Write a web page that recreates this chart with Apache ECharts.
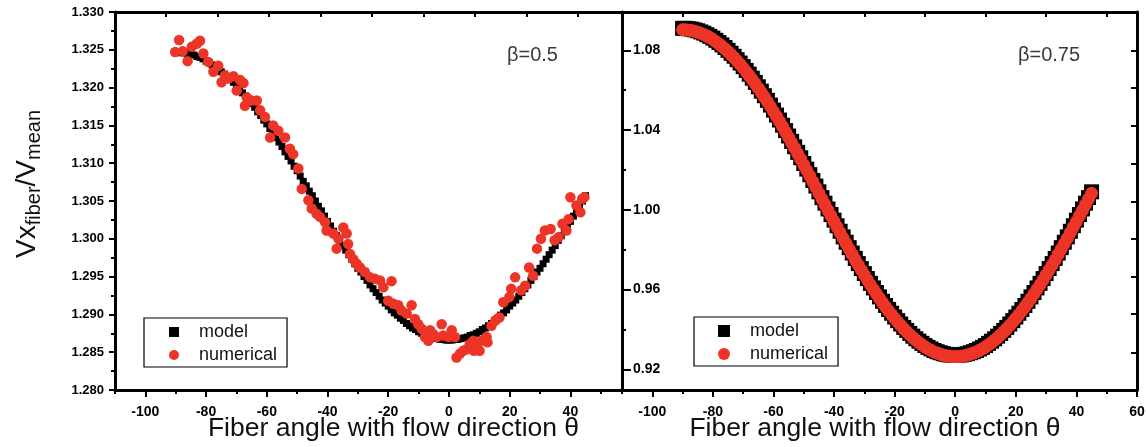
<!DOCTYPE html>
<html><head><meta charset="utf-8">
<script src="https://cdn.jsdelivr.net/npm/echarts@6/dist/echarts.min.js"></script>
<style>html,body{margin:0;padding:0;background:#fff}#c{width:1146px;height:447px}</style>
</head><body><div id="c"></div>
<script>
// ---------- data ----------
const angles = [-90,-89,-88,-87,-86,-85,-84,-83,-82,-81,-80,-79,-78,-77,-76,-75,-74,-73,-72,-71,-70,-69,-68,-67,-66,-65,-64,-63,-62,-61,-60,-59,-58,-57,-56,-55,-54,-53,-52,-51,-50,-49,-48,-47,-46,-45,-44,-43,-42,-41,-40,-39,-38,-37,-36,-35,-34,-33,-32,-31,-30,-29,-28,-27,-26,-25,-24,-23,-22,-21,-20,-19,-18,-17,-16,-15,-14,-13,-12,-11,-10,-9,-8,-7,-6,-5,-4,-3,-2,-1,0,1,2,3,4,5,6,7,8,9,10,11,12,13,14,15,16,17,18,19,20,21,22,23,24,25,26,27,28,29,30,31,32,33,34,35,36,37,38,39,40,41,42,43,44,45];

// beta = 0.5, model
const leftModel = [1.3247,1.3247,1.3246,1.3246,1.3245,1.3244,1.3243,1.3241,1.3240,1.3238,1.3235,1.3233,1.3230,1.3228,1.3225,1.3221,1.3218,1.3214,1.3211,1.3207,1.3202,1.3198,1.3193,1.3189,1.3184,1.3179,1.3174,1.3168,1.3163,1.3157,1.3152,1.3146,1.3140,1.3134,1.3128,1.3122,1.3115,1.3109,1.3103,1.3096,1.3090,1.3083,1.3076,1.3070,1.3063,1.3057,1.3050,1.3043,1.3037,1.3030,1.3023,1.3017,1.3010,1.3004,1.2998,1.2991,1.2985,1.2979,1.2973,1.2967,1.2961,1.2956,1.2950,1.2945,1.2939,1.2934,1.2929,1.2924,1.2919,1.2915,1.2911,1.2906,1.2902,1.2899,1.2895,1.2892,1.2888,1.2885,1.2882,1.2880,1.2877,1.2875,1.2873,1.2872,1.2870,1.2869,1.2868,1.2867,1.2867,1.2866,1.2866,1.2866,1.2867,1.2867,1.2868,1.2869,1.2870,1.2872,1.2873,1.2875,1.2877,1.2880,1.2882,1.2885,1.2888,1.2892,1.2895,1.2899,1.2902,1.2906,1.2911,1.2915,1.2919,1.2924,1.2929,1.2934,1.2939,1.2945,1.2950,1.2956,1.2961,1.2967,1.2973,1.2979,1.2985,1.2991,1.2998,1.3004,1.3010,1.3017,1.3023,1.3030,1.3037,1.3043,1.3050,1.3057];

// beta = 0.5, numerical (scattered)
const leftNumAngle = [-90.2,-88.9,-87.7,-86.1,-84.7,-83.1,-82.0,-80.9,-79.3,-77.6,-76.0,-74.9,-73.8,-72.7,-71.0,-69.9,-68.8,-67.7,-67.2,-66.6,-65.0,-63.3,-62.2,-60.6,-58.9,-57.9,-56.2,-54.0,-52.4,-51.3,-49.6,-48.5,-46.3,-45.2,-43.6,-42.5,-40.8,-40.3,-38.1,-37.0,-36.4,-34.8,-33.7,-33.2,-32.6,-31.5,-30.4,-29.3,-27.7,-26.0,-24.4,-22.7,-21.6,-20.0,-18.9,-18.3,-16.7,-15.6,-13.9,-12.3,-11.2,-10.1,-9.0,-7.9,-6.8,-6.2,-5.2,-4.0,-2.4,-1.9,-0.2,0.9,2.0,2.5,3.6,4.7,5.8,6.9,8.0,8.2,9.1,10.1,10.8,12.4,12.7,14.0,15.3,16.6,17.9,19.9,20.5,21.8,23.8,25.1,26.4,27.7,29.0,30.3,31.6,33.5,34.8,36.1,37.4,38.7,39.4,40.0,42.0,43.3,43.9,44.6];
const leftNumValue = [1.3247,1.3263,1.3248,1.3235,1.3254,1.3258,1.3262,1.3245,1.3234,1.3221,1.3229,1.3207,1.3216,1.3212,1.3215,1.3196,1.3210,1.3206,1.3176,1.3187,1.3183,1.3183,1.3170,1.3161,1.3134,1.3150,1.3143,1.3134,1.3119,1.3112,1.3093,1.3066,1.3051,1.3040,1.3033,1.3029,1.3022,1.3011,1.3007,1.2987,1.3000,1.3015,1.3007,1.2993,1.2980,1.2973,1.2967,1.2962,1.2956,1.2949,1.2947,1.2945,1.2936,1.2918,1.2944,1.2914,1.2912,1.2905,1.2901,1.2912,1.2894,1.2887,1.2881,1.2870,1.2865,1.2879,1.2874,1.2870,1.2887,1.2872,1.2870,1.2879,1.2870,1.2843,1.2848,1.2852,1.2854,1.2861,1.2865,1.2852,1.2856,1.2852,1.2865,1.2870,1.2863,1.2885,1.2892,1.2896,1.2916,1.2923,1.2934,1.2949,1.2932,1.2938,1.2962,1.2951,1.2987,1.3000,1.3011,1.3013,1.2998,1.3002,1.3020,1.3011,1.3026,1.3055,1.3044,1.3035,1.3053,1.3055];

// beta = 0.75
const rightModel = [1.0910,1.0910,1.0908,1.0906,1.0902,1.0898,1.0892,1.0886,1.0878,1.0870,1.0861,1.0850,1.0839,1.0827,1.0814,1.0800,1.0785,1.0770,1.0753,1.0736,1.0718,1.0699,1.0680,1.0660,1.0639,1.0617,1.0595,1.0572,1.0549,1.0525,1.0500,1.0475,1.0450,1.0424,1.0397,1.0370,1.0343,1.0316,1.0288,1.0261,1.0232,1.0204,1.0176,1.0147,1.0119,1.0090,1.0061,1.0033,1.0004,0.9976,0.9948,0.9920,0.9892,0.9864,0.9837,0.9810,0.9783,0.9756,0.9730,0.9705,0.9680,0.9655,0.9631,0.9608,0.9585,0.9563,0.9541,0.9520,0.9500,0.9481,0.9462,0.9444,0.9427,0.9410,0.9395,0.9380,0.9366,0.9353,0.9341,0.9330,0.9319,0.9310,0.9302,0.9294,0.9288,0.9283,0.9278,0.9275,0.9272,0.9271,0.9270,0.9271,0.9272,0.9275,0.9278,0.9283,0.9288,0.9294,0.9302,0.9310,0.9319,0.9330,0.9341,0.9353,0.9366,0.9380,0.9395,0.9410,0.9427,0.9444,0.9462,0.9481,0.9500,0.9520,0.9541,0.9563,0.9585,0.9608,0.9631,0.9655,0.9680,0.9705,0.9730,0.9756,0.9783,0.9810,0.9837,0.9864,0.9892,0.9920,0.9948,0.9976,1.0004,1.0033,1.0061,1.0090];
const rightNumerical = [1.0903,1.0903,1.0901,1.0899,1.0895,1.0891,1.0885,1.0879,1.0871,1.0863,1.0854,1.0843,1.0832,1.0820,1.0807,1.0793,1.0778,1.0763,1.0746,1.0729,1.0711,1.0692,1.0673,1.0653,1.0632,1.0610,1.0588,1.0565,1.0542,1.0518,1.0493,1.0468,1.0443,1.0417,1.0390,1.0363,1.0336,1.0309,1.0281,1.0254,1.0225,1.0197,1.0169,1.0140,1.0112,1.0083,1.0054,1.0026,0.9997,0.9969,0.9941,0.9913,0.9885,0.9857,0.9830,0.9803,0.9776,0.9749,0.9723,0.9698,0.9673,0.9648,0.9624,0.9601,0.9578,0.9556,0.9534,0.9513,0.9493,0.9474,0.9455,0.9437,0.9420,0.9403,0.9388,0.9373,0.9359,0.9346,0.9334,0.9323,0.9312,0.9303,0.9295,0.9287,0.9281,0.9276,0.9271,0.9268,0.9265,0.9264,0.9263,0.9264,0.9265,0.9268,0.9271,0.9276,0.9281,0.9287,0.9295,0.9303,0.9312,0.9323,0.9334,0.9346,0.9359,0.9373,0.9388,0.9403,0.9420,0.9437,0.9455,0.9474,0.9493,0.9513,0.9534,0.9556,0.9578,0.9601,0.9624,0.9648,0.9673,0.9698,0.9723,0.9749,0.9776,0.9803,0.9830,0.9857,0.9885,0.9913,0.9941,0.9969,0.9997,1.0026,1.0054,1.0083];

// ticks / labels
const leftXLabels = [-100,-80,-60,-40,-20,0,20,40];
const leftXMinor = [-110,-90,-70,-50,-30,-10,10,30,50];
const leftXTop = [-93.2,-76.2,-59.3,-42.3,-25.3,-8.4,8.6,25.5,42.5];
const leftYLabels = [1.280,1.285,1.290,1.295,1.300,1.305,1.310,1.315,1.320,1.325,1.330];
const leftYMinor = [1.2825,1.2875,1.2925,1.2975,1.3025,1.3075,1.3125,1.3175,1.3225,1.3275];
const rightXLabels = [-100,-80,-60,-40,-20,0,20,40,60];
const rightXMinor = [-110,-90,-70,-50,-30,-10,10,30,50];
const rightXTop = [-90,-70,-50,-30,-10,10,30,50];
const rightYLabels = [0.92,0.96,1.00,1.04,1.08];
const rightYMinor = [0.94,0.98,1.02,1.06];
const rightYRight = [1.0800,1.0613,1.0419,1.0232,1.0042,0.9854,0.9664,0.9477,0.9285];
const seriesNames = ['model','numerical'];
const panelLabels = ['β=0.5','β=0.75'];
const xTitle = 'Fiber angle with flow direction θ';

// ---------- chart ----------
const FONT = '"Liberation Sans", Arial, sans-serif';
const RED = '#EC3427';
const chart = echarts.init(document.getElementById('c'), null, {renderer:'canvas'});
const zip = (xs, ys) => xs.map((x, i) => [x, ys[i]]);

const L = {left:115, top:12, width:507, height:378, containLabel:false, outerBoundsMode:'none'};
const R = {left:622, top:12, width:515, height:378, containLabel:false, outerBoundsMode:'none'};
const XL = {min:-110, max:57};
const XR = {min:-110, max:60};
const YL = {min:1.28, max:1.33};
const YR = {min:0.9096, max:1.0992};

const line3 = {show:true, onZero:false, lineStyle:{color:'#000', width:3}};
const noLine = {show:false, onZero:false};
const tick = (vals, len, inside) => ({show:true, inside:!!inside, length:len, customValues:vals, lineStyle:{color:'#000', width:2}});
const noLabel = {show:false};
const off = {show:false};

const xAxes = [
  // left panel
  {gridIndex:0, type:'value', position:'bottom', min:XL.min, max:XL.max, axisLine:line3,
   axisTick:tick(leftXLabels,7), splitLine:off,
   axisLabel:{show:true, customValues:leftXLabels, margin:15, fontFamily:FONT, fontWeight:'bold', fontSize:14, color:'#000'},
   name:xTitle, nameLocation:'middle', nameGap:25, nameMoveOverlap:false,
   nameTextStyle:{fontFamily:FONT, fontSize:26.5, color:'#111', padding:[0,0,0,50]}},
  {gridIndex:0, type:'value', position:'bottom', min:XL.min, max:XL.max, axisLine:noLine,
   axisTick:tick(leftXMinor,4), axisLabel:noLabel, splitLine:off},
  {gridIndex:0, type:'value', position:'top', min:XL.min, max:XL.max, axisLine:line3,
   axisTick:tick(leftXTop,5,true), axisLabel:noLabel, splitLine:off},
  // right panel
  {gridIndex:1, type:'value', position:'bottom', min:XR.min, max:XR.max, axisLine:line3,
   axisTick:tick(rightXLabels,7), splitLine:off,
   axisLabel:{show:true, customValues:rightXLabels, margin:15, fontFamily:FONT, fontWeight:'bold', fontSize:14, color:'#000'},
   name:xTitle, nameLocation:'middle', nameGap:25, nameMoveOverlap:false,
   nameTextStyle:{fontFamily:FONT, fontSize:26.5, color:'#111', padding:[0,9,0,0]}},
  {gridIndex:1, type:'value', position:'bottom', min:XR.min, max:XR.max, axisLine:noLine,
   axisTick:tick(rightXMinor,4), axisLabel:noLabel, splitLine:off},
  {gridIndex:1, type:'value', position:'top', min:XR.min, max:XR.max, axisLine:line3,
   axisTick:tick(rightXTop,5,true), axisLabel:noLabel, splitLine:off}
];

const yAxes = [
  {gridIndex:0, type:'value', position:'left', min:YL.min, max:YL.max, axisLine:line3,
   axisTick:tick(leftYLabels,6), splitLine:off,
   axisLabel:{show:true, customValues:leftYLabels, margin:11, fontFamily:FONT, fontWeight:'bold', fontSize:13, color:'#000',
     formatter:v => v.toFixed(3)},
   name:'{a|Vx}{b|fiber}{a|/V}{b|mean}', nameLocation:'middle', nameRotate:90, nameGap:71, nameMoveOverlap:false,
   nameTextStyle:{padding:[0,0,0,34], rich:{
     a:{fontFamily:FONT, fontSize:28, lineHeight:34, color:'#111'},
     b:{fontFamily:FONT, fontSize:20, lineHeight:22, verticalAlign:'bottom', color:'#111'}}}},
  {gridIndex:0, type:'value', position:'left', min:YL.min, max:YL.max, axisLine:noLine,
   axisTick:tick(leftYMinor,4), axisLabel:noLabel, splitLine:off},
  {gridIndex:1, type:'value', position:'left', min:YR.min, max:YR.max, axisLine:line3,
   axisTick:tick(rightYLabels,9,true), splitLine:off,
   axisLabel:{show:true, inside:true, customValues:rightYLabels, margin:11, fontFamily:FONT, fontWeight:'bold', fontSize:14, color:'#000',
     formatter:v => v.toFixed(2)}},
  {gridIndex:1, type:'value', position:'left', min:YR.min, max:YR.max, axisLine:noLine,
   axisTick:tick(rightYMinor,4,true), axisLabel:noLabel, splitLine:off},
  {gridIndex:1, type:'value', position:'right', min:YR.min, max:YR.max, axisLine:line3,
   axisTick:tick(rightYRight,6,true), axisLabel:noLabel, splitLine:off}
];

const legendBase = {
  orient:'vertical', selectedMode:false, borderColor:'#000', borderWidth:1.2, borderRadius:0,
  itemGap:5, backgroundColor:'#fff',
  textStyle:{fontFamily:FONT, fontSize:18, color:'#111', padding:[0,0,0,15]}
};

chart.setOption({
  animation:false,
  backgroundColor:'#fff',
  grid:[L, R],
  xAxis:xAxes,
  yAxis:yAxes,
  legend:[
    Object.assign({}, legendBase, {left:144, top:318, padding:[5,10,3,25], itemWidth:10, itemHeight:10,
      data:[{name:seriesNames[0], icon:'rect'}, {name:seriesNames[1], icon:'circle'}]}),
    Object.assign({}, legendBase, {left:694, top:317, padding:[5,10,3,24], itemWidth:12, itemHeight:12,
      data:[{name:seriesNames[0], icon:'rect'}, {name:seriesNames[1], icon:'circle'}]})
  ],
  graphic:[
    {type:'text', left:507, top:45, style:{text:panelLabels[0], font:'20px "Liberation Sans", Arial, sans-serif', fill:'#3a3a3a'}},
    {type:'text', left:1018, top:45, style:{text:panelLabels[1], font:'20px "Liberation Sans", Arial, sans-serif', fill:'#3a3a3a'}}
  ],
  series:[
    {name:seriesNames[0], type:'scatter', xAxisIndex:0, yAxisIndex:0, symbol:'rect', symbolSize:7,
     itemStyle:{color:'#000', opacity:1}, data:zip(angles, leftModel), z:2},
    {name:seriesNames[1], type:'scatter', xAxisIndex:0, yAxisIndex:0, symbol:'circle', symbolSize:10.5,
     itemStyle:{color:RED, opacity:1}, data:zip(leftNumAngle, leftNumValue), z:3},
    {name:seriesNames[0], type:'scatter', xAxisIndex:3, yAxisIndex:2, symbol:'rect', symbolSize:15,
     itemStyle:{color:'#000', opacity:1}, data:zip(angles, rightModel), z:2},
    {name:seriesNames[1], type:'scatter', xAxisIndex:3, yAxisIndex:2, symbol:'circle', symbolSize:13,
     itemStyle:{color:RED, opacity:1}, data:zip(angles, rightNumerical), z:3}
  ]
});
</script>
</body></html>
